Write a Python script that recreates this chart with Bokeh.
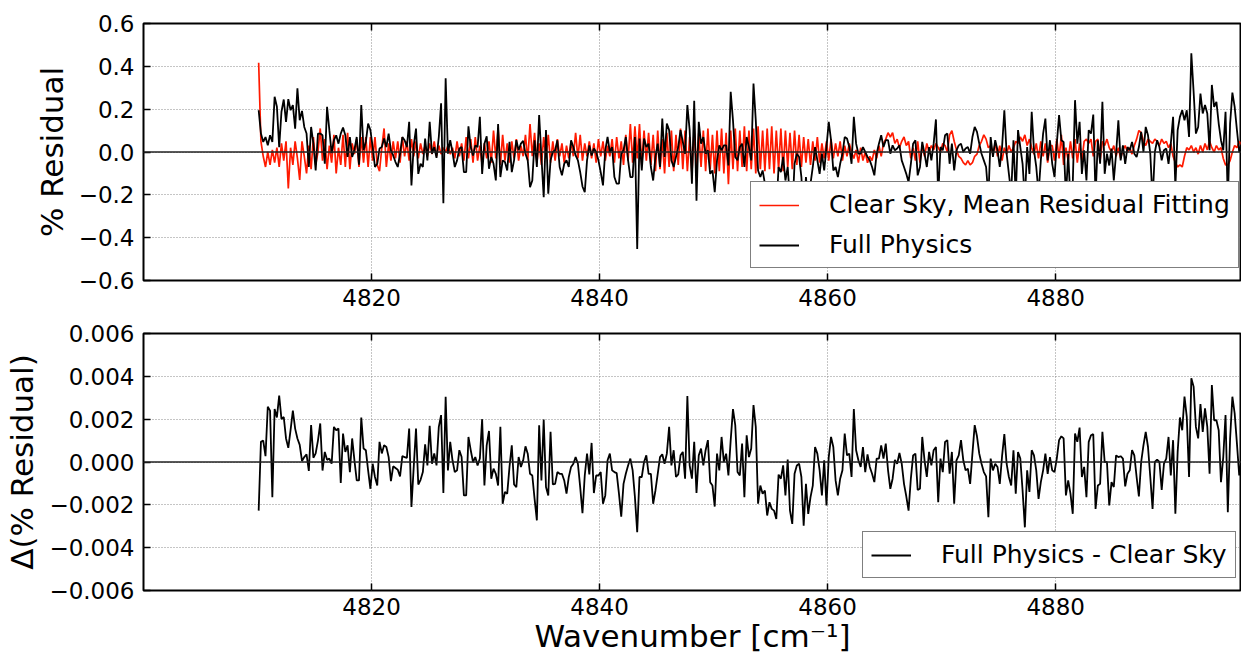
import numpy as np
from bokeh.plotting import figure
from bokeh.layouts import column
from bokeh.models import (Range1d, FixedTicker, CustomJSTickFormatter, LinearAxis,
                          Span, Legend, LegendItem)
from bokeh.embed import file_html
from bokeh.resources import INLINE

# ---------------- data ----------------
wavenumber_start = 4810.1   # cm^-1, first sample
wavenumber_step = 0.2       # cm^-1, spectral sampling

x_ticks = [4820, 4840, 4860, 4880]
top_y_ticks = [-0.6, -0.4, -0.2, 0.0, 0.2, 0.4, 0.6]
bottom_y_ticks = [-0.006, -0.004, -0.002, 0.0, 0.002, 0.004, 0.006]

# % residual, clear-sky mean-residual fitting (red)
clear_sky = [
    0.417, 0.05, -0.02, -0.07, 0.0, -0.06, 0.01, -0.05, 0.02, -0.07,
    0.04, -0.04, 0.05, -0.17, 0.02, -0.06, 0.05, -0.03, -0.13, 0.05,
    -0.02, -0.10, 0.03, -0.08, 0.07, -0.06, 0.0, 0.11, -0.04, 0.06,
    -0.08, 0.03, -0.05, 0.08, -0.1, 0.02, -0.06, 0.08, -0.07, 0.09,
    -0.08, 0.04, -0.01, 0.06, -0.07, 0.07, -0.05, 0.07, -0.07, 0.07,
    -0.04, 0.07, -0.06, -0.09, 0.02, 0.11, -0.07, 0.04, -0.04, 0.05,
    -0.03, 0.05, -0.05, 0.07, -0.02, 0.05, -0.04, 0.06, -0.02, 0.05,
    -0.03, 0.04, -0.01, 0.03, -0.02, 0.04, -0.01, 0.05, -0.02, 0.03,
    -0.01, 0.02, 0.0, 0.03, -0.01,
    0.02, -0.03, 0.05, -0.02, 0.04, -0.04, 0.07, -0.03, 0.06, -0.05,
    0.07, -0.04, 0.03, -0.06, 0.04, -0.03, 0.05, -0.05, 0.10, -0.03,
    0.11, -0.06, 0.08, -0.04, 0.04, -0.05, 0.05, -0.03, 0.06, -0.04,
    0.03, -0.02, 0.08, -0.04, 0.13, -0.02, 0.09, -0.05, 0.04, -0.06,
    0.07, -0.03, 0.08, -0.05, 0.05, -0.04, 0.06, -0.02, 0.04, -0.05,
    0.03, -0.03, 0.05, -0.02, 0.09, -0.03, 0.08, -0.04, 0.04, -0.02,
    0.05, -0.03, 0.04, -0.05, 0.06, -0.02, 0.05, -0.04, 0.03, -0.02,
    0.06, -0.05, 0.07, -0.03, 0.05, -0.06, 0.08, -0.04, 0.13, -0.05,
    0.12, -0.03, 0.13, -0.06, 0.10, -0.04, 0.09,
    -0.06, 0.08, -0.09, 0.10, -0.08, 0.06, -0.10, 0.09, -0.07, 0.10,
    -0.09, 0.08, -0.06, 0.11, -0.08, 0.10, -0.09, 0.07, -0.10, 0.11,
    -0.08, 0.09, -0.07, 0.10, -0.09, 0.11, -0.08, 0.08, -0.10, 0.10,
    -0.09, 0.11, -0.10, 0.09, -0.15, 0.10, -0.08, 0.11, -0.09, 0.10,
    -0.07, 0.12, -0.09, 0.10, -0.08, 0.11, -0.10, 0.12, -0.08, 0.10,
    -0.09, 0.11, -0.08, 0.12, -0.10, 0.10, -0.08, 0.11, -0.09, 0.10,
    -0.07, 0.09, -0.08, 0.10, -0.06, 0.08, -0.07, 0.07, -0.05, 0.06,
    -0.06, 0.05, -0.04, 0.07, -0.05, 0.04, -0.03, 0.05, -0.04, 0.06,
    -0.03, 0.04, -0.02, 0.05, -0.04, 0.03, -0.02, 0.04,
    0.00, -0.03, 0.01, -0.05, 0.02, -0.04, 0.00, -0.05, -0.02, -0.04,
    0.01, -0.03, 0.03, -0.02, 0.04, 0.06, 0.09, 0.07, 0.09, 0.04,
    0.06, 0.02, 0.05, 0.07, 0.03, 0.05, -0.03, 0.02, -0.04, 0.05,
    -0.05, 0.03, -0.02, 0.04, 0.00, 0.03, 0.01, 0.04, 0.02, 0.00,
    0.04, 0.03, 0.00, 0.08, 0.10, 0.05, 0.01, -0.02, -0.03, -0.05,
    -0.06, -0.04, -0.06, -0.05, -0.02, -0.01, 0.03, 0.05, 0.08, 0.06,
    0.02, 0.03, -0.01, 0.04, -0.02, 0.03, -0.04, 0.02, -0.01, 0.03,
    0.00, 0.02, 0.05, 0.04, 0.07, 0.05, 0.08, 0.03, 0.06, 0.02,
    -0.01, 0.04, -0.03, 0.05, -0.02, 0.04, -0.05, 0.03,
    0.03, -0.04, 0.06, -0.03, 0.08, -0.06, 0.02, -0.04, 0.05, -0.03,
    0.06, -0.05, 0.04, -0.04, 0.05, 0.06, 0.04, 0.06, -0.02, 0.05,
    0.06, -0.04, 0.05, 0.03, 0.06, 0.02, 0.00, 0.03, -0.02, 0.02,
    -0.03, 0.01, 0.03, 0.00, 0.02, -0.01, 0.03, 0.06, 0.10, 0.09,
    0.05, 0.03, 0.06, 0.05, 0.04, 0.06, 0.05, 0.03, 0.06, 0.04,
    0.05, 0.02, 0.04, -0.02, -0.05, -0.07, -0.06, -0.07, -0.02, 0.02,
    0.01, 0.03, 0.00, 0.02, -0.01, 0.03, 0.00, 0.04, 0.01, 0.05,
    0.02, 0.00, 0.03, 0.01, 0.02, -0.03, -0.06, -0.06, -0.04, 0.00,
    0.03, 0.02, 0.05, 0.03, 0.04, 0.02, 0.05,
]

# % residual, full physics (black)
full_physics = [
    0.195, 0.086, 0.047, 0.070, 0.031, 0.078, 0.047, 0.258, 0.211, 0.023,
    0.188, 0.245, 0.141, 0.247, 0.195, 0.219, 0.109, 0.297, 0.148, 0.192,
    0.117, 0.086, -0.070, 0.117, 0.039, -0.086, 0.086, 0.086, 0.078, -0.055,
    0.211, 0.102, -0.005, 0.055, 0.078, 0.039, 0.086, 0.114, 0.078, -0.023,
    0.070, -0.023, 0.011, 0.070, -0.059, 0.219, 0.008, 0.047, 0.133, 0.102,
    0.023, -0.070, -0.055, 0.016, 0.023, 0.063, 0.023, 0.086, 0.008, -0.016,
    -0.047, -0.070, -0.008, 0.070, 0.055, 0.023, 0.141, -0.156, 0.031, 0.109,
    -0.102, -0.055, -0.070, 0.063, -0.039, 0.141, -0.008, 0.023, -0.027, 0.070,
    0.227, -0.239, 0.344, -0.008, 0.055,
    0.000, -0.070, -0.039, 0.016, 0.023, -0.094, -0.094, 0.120, 0.023, -0.016,
    0.031, 0.023, 0.164, -0.102, 0.039, 0.073, -0.078, -0.023, -0.055, -0.133,
    0.130, -0.117, -0.039, -0.047, -0.086, 0.047, -0.094, -0.039, 0.055, 0.008,
    0.039, 0.052, -0.008, -0.039, -0.164, -0.133, 0.055, -0.070, 0.172, -0.023,
    -0.211, 0.102, -0.195, -0.039, 0.000, 0.008, 0.055, -0.070, -0.109, -0.055,
    -0.039, -0.070, 0.055, 0.023, -0.016, -0.039, -0.094, -0.161, -0.188, -0.039,
    0.031, -0.016, 0.016, 0.000, -0.039, -0.094, -0.156, 0.008, 0.070, 0.000,
    0.023, -0.117, -0.148, -0.148, -0.008, 0.008, 0.070, -0.039, -0.117, -0.117,
    0.070, -0.453, 0.063, -0.086, 0.063, 0.023, 0.039,
    -0.070, -0.133, -0.023, 0.039, -0.070, 0.156, -0.023, 0.133, 0.102, -0.039,
    -0.070, -0.023, 0.023, 0.102, 0.047, -0.008, 0.219, 0.102, -0.148, 0.239,
    -0.227, 0.141, 0.039, 0.070, -0.008, 0.008, -0.102, -0.086, -0.188, -0.039,
    0.031, 0.008, 0.031, 0.031, -0.063, 0.281, 0.148, -0.023, -0.039, 0.023,
    0.039, -0.070, 0.070, 0.023, -0.039, 0.320, 0.148, -0.086, -0.117, -0.086,
    -0.148, -0.250, -0.191, -0.219, -0.227, -0.270, -0.070, -0.094, -0.023, -0.133,
    -0.070, -0.227, -0.289, -0.055, -0.008, -0.023, -0.117, -0.300, -0.117, -0.239,
    -0.148, -0.070, 0.023, -0.039, -0.102, -0.008, -0.086, 0.023, 0.141, 0.055,
    -0.086, -0.070, -0.117, -0.055, -0.008, 0.070, 0.063, 0.023,
    -0.055, 0.164, 0.039, -0.008, -0.008, 0.023, 0.000, -0.023, -0.039, -0.070,
    -0.109, -0.008, 0.039, 0.078, 0.023, 0.055, 0.055, -0.008, 0.031, 0.008,
    0.016, 0.031, -0.039, -0.070, -0.102, -0.141, -0.055, 0.039, 0.055, -0.109,
    -0.070, 0.047, -0.008, -0.070, 0.023, -0.039, 0.039, 0.152, -0.208, 0.023,
    0.008, 0.078, 0.086, -0.055, 0.039, -0.086, 0.008, 0.031, 0.039, 0.000,
    0.016, 0.023, -0.008, 0.070, 0.117, 0.094, 0.039, -0.008, -0.039, -0.070,
    -0.211, 0.070, -0.023, 0.055, 0.008, -0.070, 0.023, 0.195, -0.008, -0.102,
    -0.195, 0.055, -0.211, 0.102, 0.023, -0.055, -0.227, 0.023, -0.102, 0.188,
    0.008, -0.070, -0.195, -0.039, 0.086, 0.156, -0.039, 0.055,
    -0.055, -0.117, 0.039, 0.172, 0.055, 0.047, -0.211, -0.008, -0.227, -0.148,
    0.242, 0.039, 0.141, -0.102, 0.008, -0.133, 0.102, 0.086, 0.175, -0.211,
    0.055, -0.055, 0.234, -0.102, -0.008, -0.063, 0.016, -0.133, -0.008, 0.148,
    -0.039, 0.031, -0.055, 0.023, 0.008, 0.047, -0.008, -0.023, 0.023, 0.094,
    0.000, 0.117, 0.078, -0.008, -0.227, 0.000, 0.055, 0.023, -0.039, 0.008,
    0.016, -0.055, 0.039, 0.164, -0.164, 0.102, 0.164, 0.195, 0.148, 0.195,
    0.070, 0.461, 0.281, 0.086, 0.117, 0.273, 0.180, 0.219, 0.180, 0.008,
    0.313, 0.211, 0.234, 0.133, 0.055, 0.008, 0.188, -0.227, 0.133, 0.277,
    0.211, 0.102, 0.000, 0.039, 0.117, 0.148, 0.180,
]

# Delta(% residual) = full physics - clear sky, in units of 1e-3
delta_milli = [
    -2.27, 0.94, 1.0, 0.27, 2.58, 2.4, -1.64, 2.47, 2.08, 3.1,
    2.0, 2.1, 1.1, 0.66, 1.5, 2.4, 1.56, 1.1, 0.8, 0.05,
    0.23, 0.36, -0.42, 1.72, 0.2, 0.4, 1.0, 1.8, -0.4, 0.47,
    0.1, 0.16, -0.08, 1.64, 1.48, 1.56, -0.98, 1.33, 0.47, 0.78,
    -0.47, 1.1, 0.08, -0.86, -0.86, 2.08, 0.63, 0.55, -0.39, -1.25,
    -0.08, -0.7, -1.1, 0.94, 0.4, 0.78, 0.7, 0.23, -0.89, -0.2,
    -0.28, -0.36, -0.67, 0.27, 0.23, 0.19, 1.56, -2.1, -0.23, 1.56,
    -1.05, -0.83, -0.47, 0.83, -0.16, 1.69, -0.08, 0.4, -0.16, 1.64,
    2.19, -1.45, 3.05, -0.39, 0.94,
    0.08, -0.47, -0.39, 0.55, 0.23, -1.56, -1.56, 1.17, 0.55,
    0, 0.23, -0.16, 0.16, 2.0, -1.1, 0.78, 1.45, -0.78, -0.31,
    -0.55, -1.1, 1.64, -1.95, -1.4, -1.48, -0.23, 0.78, -1.05, -1.17,
    0.23, -0.23, 0.08, 0.73, 0.39, -0.55, -0.63, -1.72, -2.73, 1.72,
    -0.86, 1.98, -1.17, -1.56, 1.41, -1.05, -1.02, -0.47, -0.55,
    -0.55, -0.86, -1.48, -0.7, -0.23, -0.08, 0.23, -0.08, -1.17,
    -2.39, -0.63, 0.39, -0.58, 0.89, -1.45, -0.63, -0.63, -0.47, -1.95,
    -1.56, 0.08, 0.39, -0.39, -0.47, -0.52, -1.48, -2.55, -1.02, -0.55,
    -0.16, 0.16, -0.39, -1.64, -3.28, -0.7, -0.7, 0, 0.31,
    -0.55,
    -0.55, -1.95, -1.33, -0.55, 0.23, 0.36, -0.08, 0.39, 1.64, -0.16,
    0.55, -0.7, -0.58, 0.31, 0.47, -0.78, 3.08, -0.16, -0.78,
    0.94, -1.45, 0.31, 0.63, -0.16, 0.55, 1.02, -0.94, -1.1, -2.08,
    0.39, -0.39, 1.17, 0, 0.39, -0.63, 1.02, 2.47, 1.72, -0.47,
    -0.63, 0.86, -1.64, 1.25, 0.23, 0.63, 2.66, 1.64, -1.95,
    -1.1, -1.48, -1.33, -2.5, -1.88, -2.19, -2.27, -2.66, -0.59, -0.78,
    -0.16, -1.56, 0.11, -2.27, -2.89, -0.55, -0.16, -0.08, -0.7, -2.97,
    -1.02, -2.42, -1.64, -1.1, 0.7, 0.39, -0.39, -1.56, 0.08, -2.03,
    0.23, 1.17, 0.7, -0.86, -1.56, -0.78, -0.39, 1.33, 0.31,
    0.39,
    -0.7, 2.47, 0.55, 0.08, -0.23, 0.7, -0.47, 0.36, -0.23, -0.55,
    -0.94, 0.16, 0.16, 0.78, 0.16, 0.86, -0.39, -1.25, -0.78, 0.1, -0.08,
    0.42, -0.08, -1.02, -1.6, -2.27, -0.78, 0.31, 0.39, -1.3, -1.25, 1.17,
    0.08, -0.7, 0.47, -0.16, 0.55, 0.7, -1.88, 0.16, -0.47, 0.94,
    1.02, -0.55, 0.47, -1.95, 0.08, 0.31, 1.02, 0.08, -0.39, -0.31,
    -1.02, 0.39, 1.72, 1.2, 0.39, -0.08, -0.47, -0.67, -2.58, 0.16,
    -0.39, -0.08, -0.23, -1.02, 0.27, 1.3, -0.08, -0.7, -1.1, 0.55,
    -1.48, 0.47, 0.16, -1.33, -3.05, -0.39, -1.4, 0.55, 0.31, -0.39,
    -1.72, -0.94, -0.39, 0.39, -0.55, 0.23,
    -0.39, -0.47, 0.16, 1.02, 1.2, 1.1, -1.56, -0.86, -1.48, -2.42,
    1.33, 0.94, 1.61, -0.7, -0.23, -1.64, 0.94, 1.25, 1.3, -2.19,
    -1.1, -1.02, 1.41, 0, 0, -2.03, -0.94, -1.17, 0.31, 0.23,
    0.27, 0.16, -1.14, -0.55, -0.39, 0.55, 0.31, -0.7, -1.61, 0,
    0.78, 1.41, 0.7, -0.7, -2.19, 0, 0.11, 0, -1.3, -0.08,
    0.16, 1.17, -0.63, 1.02, -2.42, 0.47, 2.08, 1.48, 3.05, 2.11,
    -0.7, 3.91, 3.52, 1.64, 1.1, 2.7, 1.41, 2.5, 1.64, -0.55,
    3.59, 1.95, 1.95, 1.48, -0.94, 0.23, 2.19, -2.34, 1.1, 3.05,
    2.27, 0.86, -0.63, 0.16, 1.02, 0.55, 2.89,
]

# ---------------- styling ----------------
FONT = "DejaVu Sans"
TICK_SIZE = "23px"
LABEL_SIZE = "31px"
LEGEND_SIZE = "25px"
FRAME_W = 1098
FRAME_H = 257
LEFT = 143


def wn(series):
    return wavenumber_start + wavenumber_step * np.arange(len(series))


def style_axis(ax, standoff=8):
    ax.major_tick_in = 7
    ax.major_tick_out = 0
    ax.major_tick_line_width = 1.5
    ax.major_tick_line_color = "black"
    ax.minor_tick_line_color = None
    ax.axis_line_color = None
    ax.major_label_text_font = FONT
    ax.major_label_text_font_size = TICK_SIZE
    ax.major_label_text_color = "black"
    ax.major_label_standoff = standoff
    ax.axis_label_text_font = FONT
    ax.axis_label_text_font_size = LABEL_SIZE
    ax.axis_label_text_font_style = "normal"
    ax.axis_label_text_color = "black"


def make_fig(y_ticks, digits, ylabel, top, bottom):
    p = figure(frame_width=FRAME_W, frame_height=FRAME_H,
               x_range=Range1d(4800, 4896.3),
               y_range=Range1d(y_ticks[0], y_ticks[-1]),
               output_backend="svg", toolbar_location=None,
               min_border_left=LEFT, min_border_right=0,
               min_border_top=top, min_border_bottom=bottom,
               background_fill_color="white", border_fill_color="white")
    p.outline_line_color = "black"
    p.outline_line_width = 2
    p.xaxis.ticker = FixedTicker(ticks=x_ticks)
    p.yaxis.ticker = FixedTicker(ticks=y_ticks)
    p.yaxis.formatter = CustomJSTickFormatter(
        code="return tick.toFixed(%d).replace('-', '\\u2212');" % digits)
    for ax in p.xaxis:
        style_axis(ax, 8)
    for ax in p.yaxis:
        style_axis(ax, 9)
        ax.axis_label = ylabel
        ax.axis_label_standoff = 6
    # inward ticks along the top edge, without labels
    top_axis = LinearAxis(ticker=FixedTicker(ticks=x_ticks))
    style_axis(top_axis, 0)
    top_axis.major_label_text_font_size = "1px"
    top_axis.major_label_text_color = None
    p.add_layout(top_axis, "above")
    for g in (p.xgrid, p.ygrid):
        g.grid_line_color = "#8a8a8a"
        g.grid_line_dash = "1 2"
        g.grid_line_width = 1
    p.add_layout(Span(location=0, dimension="width", line_color="#222222",
                      line_width=1.4))
    return p


def make_legend(items, loc):
    lg = Legend(items=items, location=loc, margin=0, padding=8, spacing=11,
                glyph_width=40, glyph_height=26, label_height=26,
                label_standoff=30, label_text_font=FONT,
                label_text_font_size=LEGEND_SIZE, label_text_color="black",
                border_line_color="black", border_line_width=1,
                background_fill_color="white", background_fill_alpha=1.0)
    return lg


# ---------------- upper panel ----------------
p1 = make_fig(top_y_ticks, 1, "% Residual", 23, 40)
r_red = p1.line(wn(clear_sky), clear_sky, line_color="#ff1a00", line_width=1.7)
r_blk = p1.line(wn(full_physics), full_physics, line_color="black", line_width=1.8)
p1.add_layout(make_legend([
    LegendItem(label="Clear Sky, Mean Residual Fitting", renderers=[r_red]),
    LegendItem(label="Full Physics", renderers=[r_blk]),
], (607, 12)))

# ---------------- lower panel ----------------
delta = np.array(delta_milli) * 1e-3
p2 = make_fig(bottom_y_ticks, 3, "\u0394(% Residual)", 13, 70)
for ax in p2.xaxis:
    ax.major_label_standoff = 7
p2.below[0].axis_label = "Wavenumber [cm\u207b\u00b9]"
p2.below[0].axis_label_standoff = 0
r_d = p2.line(wn(delta_milli), delta, line_color="black", line_width=1.8)
p2.add_layout(make_legend([
    LegendItem(label="Full Physics - Clear Sky", renderers=[r_d]),
], (719, 12)))

layout = column(p1, p2, spacing=0)
open("out.html", "w").write(file_html(layout, INLINE))
